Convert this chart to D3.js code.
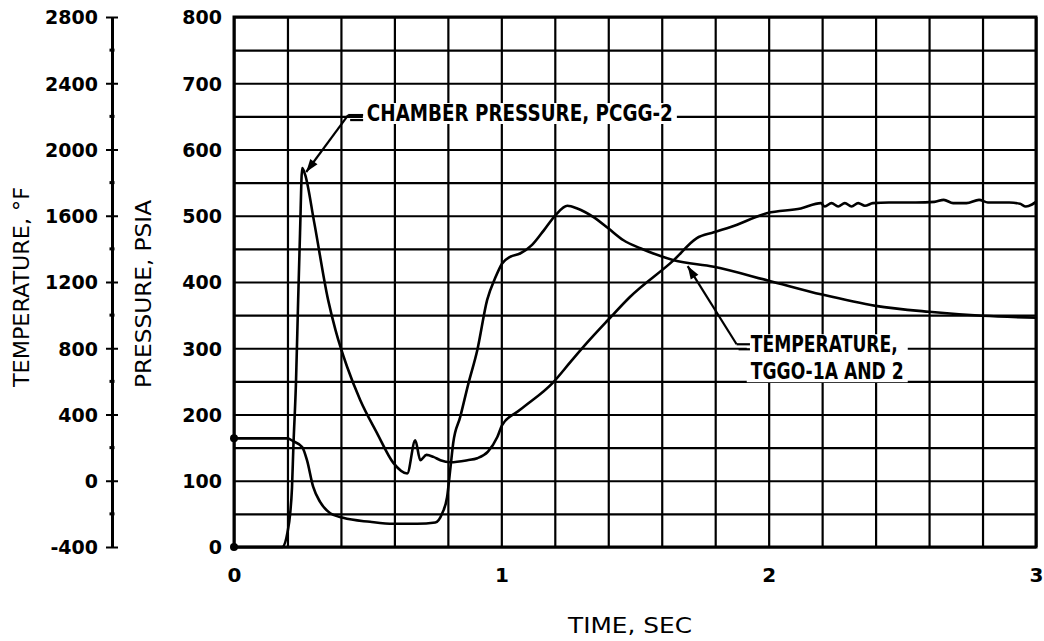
<!DOCTYPE html>
<html><head><meta charset="utf-8">
<script src="https://cdn.jsdelivr.net/npm/d3@7"></script>
<style>
body{margin:0;background:#fff}
svg{display:block}
text{font-family:"DejaVu Sans",sans-serif;fill:#000}
</style>
</head><body>
<svg id="c" width="1044" height="641"></svg>
<script>
// ---- data ----
const timeTicks = [0, 1, 2, 3];
const pressureTicks = [0, 100, 200, 300, 400, 500, 600, 700, 800];
const tempTicks = [-400, 0, 400, 800, 1200, 1600, 2000, 2400, 2800];

// Chamber pressure PCGG-2 (sec, psia)
const pcgTime = [0, 0.18, 0.2, 0.21, 0.217, 0.222, 0.232, 0.24, 0.247, 0.255, 0.266, 0.3, 0.352, 0.38, 0.423, 0.472, 0.535, 0.596, 0.648, 0.678, 0.697, 0.72, 0.746, 0.772, 0.81, 0.873, 0.91, 0.95, 0.985, 1.003, 1.07, 1.195, 1.258, 1.32, 1.40, 1.48, 1.645, 1.73, 1.795, 1.858, 1.996, 2.12, 2.195, 2.21, 2.235, 2.26, 2.285, 2.31, 2.335, 2.36, 2.39, 2.45, 2.55, 2.62, 2.655, 2.69, 2.74, 2.787, 2.82, 2.9, 2.94, 2.962, 2.985, 3.0];
const pcgPsia = [0, 0, 22, 50, 90, 150, 250, 373, 474, 572, 562, 490, 373, 327, 272, 222, 172, 127, 111, 161, 131, 139, 136, 131, 128, 131, 134, 144, 166, 184, 207, 249, 279, 308, 343, 377, 433, 466, 475, 483, 504, 511, 519, 514, 519, 514, 519, 514, 519, 515, 519, 520, 520, 521, 524, 519, 519, 524, 520, 520, 518, 514, 517, 521];

// Temperature TGGO-1A and 2 (sec, deg F)
const tgoTime = [0, 0.2, 0.22, 0.255, 0.273, 0.296, 0.322, 0.36, 0.408, 0.509, 0.596, 0.685, 0.753, 0.779, 0.797, 0.81, 0.82, 0.846, 0.877, 0.91, 0.947, 0.978, 1.003, 1.033, 1.07, 1.115, 1.159, 1.203, 1.247, 1.284, 1.345, 1.40, 1.457, 1.52, 1.645, 1.795, 2.0, 2.2, 2.4, 2.6, 2.8, 3.0];
const tgoDegF = [256, 256, 240, 204, 124, -36, -128, -196, -224, -248, -260, -260, -252, -196, -100, 84, 228, 384, 588, 788, 1092, 1228, 1312, 1352, 1372, 1424, 1512, 1604, 1660, 1644, 1592, 1524, 1452, 1404, 1332, 1292, 1208, 1124, 1056, 1020, 996, 984];

const labels = {
  time: "TIME, SEC",
  press: "PRESSURE, PSIA",
  temp: "TEMPERATURE, °F",
  chamber: "CHAMBER PRESSURE, PCGG-2",
  temp1: "TEMPERATURE,",
  temp2: "TGGO-1A AND 2"
};

// ---- layout ----
const L = 234, R = 1036, T = 17, B = 547;
const svg = d3.select("#c");
const x = d3.scaleLinear().domain([0, 3]).range([L, R]);
const yP = d3.scaleLinear().domain([0, 800]).range([B, T]);
const yT = d3.scaleLinear().domain([-400, 2800]).range([B, T]);
const plain = d => String(d);

// grid
const gridX = d3.range(0, 3.0001, 0.2);
const gridY = d3.range(0, 800.001, 50);
svg.append("g").attr("transform", `translate(0,${B})`)
  .call(d3.axisBottom(x).tickValues(gridX).tickSize(-(B - T)).tickFormat(""))
  .call(g => g.select(".domain").remove())
  .selectAll("line").attr("stroke", "#000").attr("stroke-width", 2.2);
svg.append("g").attr("transform", `translate(${L},0)`)
  .call(d3.axisLeft(yP).tickValues(gridY).tickSize(-(R - L)).tickFormat(""))
  .call(g => g.select(".domain").remove())
  .selectAll("line").attr("stroke", "#000").attr("stroke-width", 2.2);

// frame
svg.append("rect").attr("x", L).attr("y", T).attr("width", R - L).attr("height", B - T)
  .attr("fill", "none").attr("stroke", "#000").attr("stroke-width", 3);

// x tick labels
const gx = svg.append("g").attr("transform", `translate(0,${B})`)
  .call(d3.axisBottom(x).tickValues(timeTicks).tickSize(0).tickFormat(plain));
gx.select(".domain").remove();
gx.selectAll("text").attr("y", 35).attr("dy", null).attr("font-size", 20).attr("font-weight", "bold")
  .attr("font-family", "DejaVu Sans Condensed");

// pressure tick labels
const gp = svg.append("g").attr("transform", `translate(${L},0)`)
  .call(d3.axisLeft(yP).tickValues(pressureTicks).tickSize(0).tickPadding(12).tickFormat(plain));
gp.select(".domain").remove();
gp.selectAll("text").attr("font-size", 19).attr("font-weight", "bold").attr("dy", "0.36em");

// temperature axis
const AX = 112;
const gt = svg.append("g").attr("transform", `translate(${AX},0)`)
  .call(d3.axisLeft(yT).tickValues(tempTicks).tickSize(0).tickPadding(14).tickFormat(plain));
gt.select(".domain").attr("stroke", "#000").attr("stroke-width", 3);
gt.selectAll("text").attr("font-size", 19).attr("font-weight", "bold").attr("dy", "0.36em");
gt.selectAll(".tick").append("line").attr("x1", -6).attr("x2", 6).attr("stroke", "#000").attr("stroke-width", 2);
const minor = d3.range(-200, 2800, 400);
gt.selectAll(".minor").data(minor).enter().append("line")
  .attr("x1", -2.5).attr("x2", 2.5).attr("y1", d => yT(d)).attr("y2", d => yT(d))
  .attr("stroke", "#000").attr("stroke-width", 3);

// curves
const pcg = pcgTime.map((t, i) => [t, pcgPsia[i]]);
const tgo = tgoTime.map((t, i) => [t, tgoDegF[i]]);
svg.append("path").datum(pcg)
  .attr("d", d3.line().x(d => x(d[0])).y(d => yP(d[1])).curve(d3.curveMonotoneX))
  .attr("fill", "none").attr("stroke", "#000").attr("stroke-width", 2.6).attr("stroke-linejoin", "round");
svg.append("path").datum(tgo)
  .attr("d", d3.line().x(d => x(d[0])).y(d => yT(d[1])).curve(d3.curveMonotoneX))
  .attr("fill", "none").attr("stroke", "#000").attr("stroke-width", 2.6).attr("stroke-linejoin", "round");
// start dots
svg.append("circle").attr("cx", x(pcgTime[0])).attr("cy", yP(pcgPsia[0])).attr("r", 4);
svg.append("circle").attr("cx", x(tgoTime[0])).attr("cy", yT(tgoDegF[0])).attr("r", 4);

// annotations
function label(lines, tx, baseP, dyLine, widths) {
  const g = svg.append("g");
  const texts = lines.map((s, i) => g.append("text")
    .attr("x", x(tx)).attr("y", yP(baseP) + i * dyLine)
    .attr("font-family", "DejaVu Sans Condensed").attr("font-weight", "bold")
    .attr("font-size", 23).attr("textLength", widths[i]).attr("lengthAdjust", "spacingAndGlyphs")
    .text(s));
  let x0 = Infinity, y0 = Infinity, x1 = -Infinity, y1 = -Infinity;
  texts.forEach(t => { const b = t.node().getBBox(); x0 = Math.min(x0, b.x); y0 = Math.min(y0, b.y); x1 = Math.max(x1, b.x + b.width); y1 = Math.max(y1, b.y + b.height); });
  g.insert("rect", "text").attr("x", x0 - 4).attr("y", y0 + 3).attr("width", x1 - x0 + 8).attr("height", y1 - y0 - 5).attr("fill", "#fff");
  return g;
}
function leader(tip, bend, endX) {
  const p = [[x(tip[0]), yP(tip[1])], [x(bend[0]), yP(bend[1])]];
  const ex = x(endX);
  svg.append("path").attr("d", d3.line()([p[1], p[0]]))
    .attr("stroke", "#000").attr("stroke-width", 2.2).attr("fill", "none");
  svg.append("path").attr("d", d3.line()([[p[1][0], p[1][1]], [ex, p[1][1]]]))
    .attr("stroke", "#000").attr("stroke-width", 2.2);
  svg.append("path").attr("d", d3.line()([[p[1][0] + 2, p[1][1] + 5], [ex, p[1][1] + 5]]))
    .attr("stroke", "#000").attr("stroke-width", 2.2);
  const ang = Math.atan2(p[0][1] - p[1][1], p[0][0] - p[1][0]);
  const len = 13, w = 4.5;
  const bx = p[0][0] - len * Math.cos(ang), by = p[0][1] - len * Math.sin(ang);
  const nx = -Math.sin(ang) * w, ny = Math.cos(ang) * w;
  svg.append("path").attr("d", d3.line()([p[0], [bx + nx, by + ny], [bx - nx, by - ny]]) + "Z").attr("fill", "#000");
}
label([labels.chamber], 0.497, 643, 0, [306]);
leader([0.27, 566], [0.427, 652], 0.483);
label([labels.temp1, labels.temp2], 1.933, 294, 27, [147, 153]);
leader([1.697, 424], [1.88, 306], 1.93);

// axis titles
svg.append("text").attr("x", 630).attr("y", 633).attr("text-anchor", "middle")
  .attr("font-family", "DejaVu Sans Condensed").attr("font-size", 22)
  .attr("textLength", 124).attr("lengthAdjust", "spacingAndGlyphs").text(labels.time);
svg.append("text").attr("transform", "translate(29,287) rotate(-90)").attr("text-anchor", "middle")
  .attr("font-family", "DejaVu Sans Condensed").attr("font-size", 21)
  .attr("textLength", 200).attr("lengthAdjust", "spacingAndGlyphs").text(labels.temp);
svg.append("text").attr("transform", "translate(151,294) rotate(-90)").attr("text-anchor", "middle")
  .attr("font-family", "DejaVu Sans Condensed").attr("font-size", 21)
  .attr("textLength", 188).attr("lengthAdjust", "spacingAndGlyphs").text(labels.press);
</script>
</body></html>
